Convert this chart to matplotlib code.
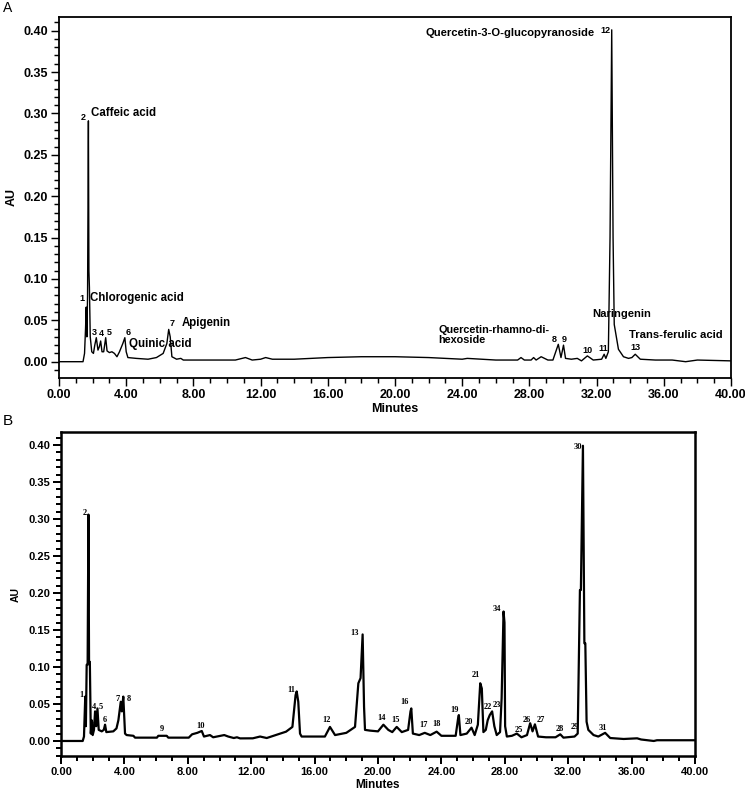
import matplotlib
matplotlib.use("Agg")
import matplotlib.pyplot as plt
from matplotlib.ticker import MultipleLocator, FormatStrFormatter

plt.rcParams['font.family'] = ['Liberation Sans', 'DejaVu Sans']

# ---------------- Panel A data (retention time in minutes, absorbance AU) ----------------
A_time = [0, 1.43, 1.52, 1.58, 1.62, 1.66, 1.70, 1.75, 1.78, 1.81, 1.86, 1.95, 2.05, 2.13,
          2.22, 2.32, 2.40, 2.48, 2.56, 2.66, 2.78, 2.86, 3.00, 3.15, 3.30, 3.45, 3.60, 3.80,
          3.92, 4.00, 4.10, 4.6, 5.3, 5.8, 6.2, 6.42, 6.53, 6.62, 6.72, 7.0, 7.25, 7.4, 8.5,
          10.5, 11.1, 11.5, 12.0, 12.3, 12.7, 14.0, 16.0, 18.0, 20.0, 22.0, 24.0, 24.3, 26.0,
          27.3, 27.5, 27.7, 28.1, 28.25, 28.4, 28.7, 29.1, 29.4, 29.72, 29.88, 30.03, 30.15,
          30.5, 30.85, 31.1, 31.45, 31.8, 32.3, 32.45, 32.55, 32.70, 32.80, 32.90, 32.98, 33.05,
          33.3, 33.6, 33.9, 34.1, 34.3, 34.6, 35.5, 36.5, 37.3, 38.0, 40.0]
A_au = [0.000, 0.000, 0.010, 0.040, 0.066, 0.030, 0.080, 0.291, 0.110, 0.090, 0.030, 0.012,
        0.010, 0.020, 0.029, 0.014, 0.018, 0.025, 0.012, 0.012, 0.029, 0.013, 0.011, 0.012,
        0.010, 0.006, 0.012, 0.022, 0.029, 0.012, 0.005, 0.004, 0.003, 0.005, 0.010, 0.022,
        0.039, 0.030, 0.006, 0.003, 0.004, 0.002, 0.002, 0.002, 0.005, 0.002, 0.003, 0.005,
        0.003, 0.003, 0.005, 0.006, 0.006, 0.005, 0.003, 0.004, 0.002, 0.002, 0.005, 0.002,
        0.002, 0.005, 0.002, 0.006, 0.002, 0.002, 0.021, 0.005, 0.020, 0.004, 0.003, 0.004,
        0.001, 0.007, 0.002, 0.003, 0.009, 0.004, 0.012, 0.150, 0.401, 0.150, 0.045, 0.015,
        0.006, 0.004, 0.005, 0.009, 0.003, 0.002, 0.002, 0.000, 0.002, 0.001]

A_num_labels = ['1', '2', '3', '4', '5', '6', '7', '8', '9', '10', '11', '12', '13']
A_num_t = [1.34, 1.43, 2.09, 2.52, 2.96, 4.11, 6.73, 29.45, 30.1, 31.45, 32.4, 32.5, 34.3]
A_num_au = [0.076, 0.295, 0.035, 0.034, 0.035, 0.035, 0.046, 0.027, 0.027, 0.013, 0.016, 0.400, 0.017]

A_names = ['Caffeic acid', 'Chlorogenic acid', 'Quinic acid', 'Apigenin',
           'Quercetin-3-O-glucopyranoside', 'Quercetin-rhamno-di-\nhexoside',
           'Naringenin', 'Trans-ferulic acid']
A_name_t = [1.93, 1.87, 4.17, 7.28, 31.9, 22.6, 31.75, 33.9]
A_name_au = [0.300, 0.077, 0.021, 0.047, 0.397, 0.0325, 0.058, 0.032]
A_name_ha = ['left', 'left', 'left', 'left', 'right', 'left', 'left', 'left']
A_name_fs = [8.3, 8.3, 8.3, 8.3, 8.1, 7.8, 8.1, 8.1]

# ---------------- Panel B data ----------------
B_time = [0, 1.37, 1.45, 1.53, 1.57, 1.62, 1.68, 1.73, 1.77, 1.82, 1.88, 1.94, 2.00, 2.08,
          2.15, 2.22, 2.30, 2.38, 2.57, 2.70, 2.78, 2.86, 3.30, 3.50, 3.62, 3.77, 3.84, 3.93,
          4.04, 4.14, 4.57, 4.67, 6.05, 6.14, 6.67, 6.77, 8.06, 8.27, 8.60, 8.88, 9.02, 9.40,
          9.60, 10.30, 10.55, 10.9, 11.1, 11.3, 12.1, 12.56, 12.98, 13.4, 13.8, 14.2, 14.6,
          14.80, 14.87, 14.97, 15.08, 15.18, 16.65, 16.97, 17.29, 18.0, 18.55, 18.76, 18.90,
          19.03, 19.12, 19.18, 19.5, 20.0, 20.34, 20.65, 20.9, 21.18, 21.5, 21.9, 22.05, 22.1,
          22.2, 22.6, 22.95, 23.3, 23.7, 24.0, 24.9, 25.05, 25.1, 25.2, 25.6, 25.9, 26.1, 26.3,
          26.45, 26.55, 26.65, 26.8, 26.92, 27.05, 27.2, 27.34, 27.49, 27.7, 27.8, 27.92,
          27.98, 28.02, 28.13, 28.45, 28.76, 29.05, 29.4, 29.6, 29.75, 29.9, 30.1, 30.6, 31.2,
          31.5, 31.7, 32.4, 32.6, 32.74, 32.80, 32.93, 33.02, 33.08, 33.16, 33.27, 33.6, 33.9,
          34.33, 34.65, 35.5, 36.35, 36.6, 37.4, 37.6, 40.0]
B_au = [0.000, 0.000, 0.006, 0.060, 0.020, 0.103, 0.103, 0.306, 0.107, 0.107, 0.010, 0.028,
        0.008, 0.015, 0.040, 0.020, 0.044, 0.015, 0.013, 0.015, 0.022, 0.012, 0.013, 0.017,
        0.028, 0.053, 0.040, 0.060, 0.010, 0.008, 0.007, 0.0045, 0.0045, 0.007, 0.007, 0.0045,
        0.0045, 0.009, 0.011, 0.0135, 0.006, 0.008, 0.005, 0.008, 0.006, 0.004, 0.005, 0.0035,
        0.0036, 0.006, 0.004, 0.007, 0.010, 0.0126, 0.019, 0.062, 0.067, 0.053, 0.010, 0.006,
        0.006, 0.019, 0.008, 0.011, 0.019, 0.078, 0.085, 0.144, 0.046, 0.015, 0.014, 0.013,
        0.022, 0.015, 0.012, 0.019, 0.012, 0.015, 0.040, 0.044, 0.010, 0.008, 0.011, 0.008,
        0.0126, 0.007, 0.007, 0.030, 0.035, 0.008, 0.010, 0.018, 0.008, 0.022, 0.078, 0.071,
        0.012, 0.015, 0.028, 0.035, 0.040, 0.020, 0.008, 0.012, 0.058, 0.175, 0.160, 0.020,
        0.006, 0.007, 0.010, 0.005, 0.008, 0.024, 0.013, 0.0225, 0.006, 0.005, 0.005, 0.009,
        0.0045, 0.006, 0.010, 0.204, 0.204, 0.399, 0.132, 0.132, 0.026, 0.015, 0.008, 0.006,
        0.011, 0.004, 0.0027, 0.0036, 0.002, 0.000, 0.001, 0.001]

B_num_labels = [str(i) for i in range(1, 32)] + ['34']
B_num_t = [1.30, 1.47, 1.97, 2.11, 2.50, 2.78, 3.60, 4.27, 6.35, 8.83, 14.55, 16.75, 18.55,
           20.2, 21.13, 21.7, 22.9, 23.7, 24.8, 25.73, 26.2, 26.9, 27.5, None, 28.9, 29.4,
           30.3, 31.5, 32.4, 32.6, 34.2, 27.5]
B_num_au = [0.062, 0.308, 0.022, 0.046, 0.046, 0.029, 0.057, 0.057, 0.016, 0.020, 0.069,
            0.028, 0.146, 0.031, 0.028, 0.053, 0.022, 0.023, 0.042, 0.026, 0.089, 0.046,
            0.048, None, 0.015, 0.029, 0.029, 0.016, 0.019, 0.398, 0.017, 0.179]

# ---------------- figure ----------------
W, H = 745, 789
fig = plt.figure(figsize=(W / 100, H / 100), dpi=100)


def px_axes(l, t, r, b):
    return fig.add_axes([l / W, 1 - b / H, (r - l) / W, (b - t) / H])


def style_axes(ax, lw, fs, weight):
    ax.set_xlim(0, 40)
    ax.xaxis.set_major_locator(MultipleLocator(4))
    ax.xaxis.set_minor_locator(MultipleLocator(1))
    ax.yaxis.set_major_locator(MultipleLocator(0.05))
    ax.yaxis.set_minor_locator(MultipleLocator(0.01))
    ax.xaxis.set_major_formatter(FormatStrFormatter('%.2f'))
    ax.yaxis.set_major_formatter(FormatStrFormatter('%.2f'))
    for s in ax.spines.values():
        s.set_linewidth(lw)
    ax.tick_params(which='both', direction='out', top=False, right=False, width=lw * 0.8)
    ax.tick_params(which='major', length=6, pad=2, labelsize=fs)
    ax.tick_params(which='minor', length=3.5)
    for lab in ax.get_xticklabels() + ax.get_yticklabels():
        lab.set_fontweight(weight)


# Panel A
axA = px_axes(59, 17, 731, 378)
axA.set_ylim(-0.0197, 0.4165)
style_axes(axA, 1.3, 9, 'bold')
axA.plot(A_time, A_au, color='black', lw=1.0, zorder=3)
axA.set_xlabel('Minutes', fontsize=9, fontweight='bold', labelpad=1)
axA.set_ylabel('AU', fontsize=9, fontweight='bold', labelpad=4)
for lab, t, v in zip(A_num_labels, A_num_t, A_num_au):
    axA.text(t, v, lab, fontsize=6.5, fontweight='bold', ha='center', va='center', zorder=2)
for name, t, v, ha, fs in zip(A_names, A_name_t, A_name_au, A_name_ha, A_name_fs):
    axA.text(t, v, name, fontsize=fs, fontweight='bold', ha=ha, va='center',
             linespacing=1.0, zorder=2)
fig.text(3 / W, 1 - 8 / H, 'A', fontsize=10, ha='left', va='center')

# Panel B
axB = px_axes(61, 432, 695, 756)
axB.set_ylim(-0.0203, 0.4176)
style_axes(axB, 1.8, 8, 'bold')
axB.plot(B_time, B_au, color='black', lw=1.6, zorder=3)
axB.set_xlabel('Minutes', fontsize=8.5, fontweight='bold', labelpad=1)
axB.set_ylabel('AU', fontsize=7.5, fontweight='bold', labelpad=5)
for lab, t, v in zip(B_num_labels, B_num_t, B_num_au):
    if t is None:
        continue
    axB.text(t, v, lab, fontsize=6, fontweight='bold', family='Liberation Serif',
             ha='center', va='center', zorder=2)
fig.text(3 / W, 1 - 421 / H, 'B', fontsize=11, ha='left', va='center')

fig.savefig('out.png', dpi=100)
